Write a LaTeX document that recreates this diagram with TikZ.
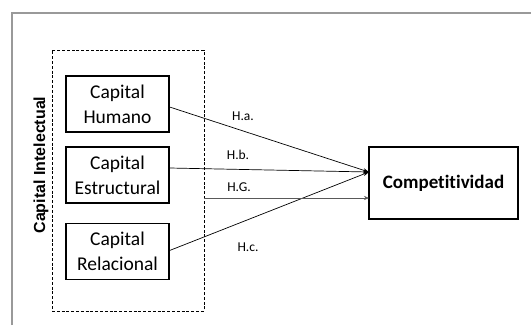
\documentclass[tikz,border=0pt]{standalone}
\usepackage{fontspec}
\setmainfont{Carlito}[Ligatures={NoCommon}]
\newfontfamily\arialf{Liberation Sans}
\usetikzlibrary{arrows.meta}
\begin{document}
\begin{tikzpicture}[x=1pt,y=-1pt,
  capbox/.style={draw,line width=1.2pt,minimum width=103pt,minimum height=56pt,inner sep=0pt,align=center,font=\fontsize{19.5}{25}\selectfont},
  link/.style={line width=0.7pt,-{Stealth[length=6pt,width=4pt]}},
  hlabel/.style={font=\fontsize{13.5}{15}\selectfont}]
\useasboundingbox (0,0) rectangle (531,325);
\fill[white] (0,0) rectangle (531,325);
\draw[gray!80,line width=1.8pt] (12,325) -- (12,13) -- (531,13);
\node[draw,dash pattern=on 3pt off 1.8pt,line width=1pt,minimum width=152pt,minimum height=261pt,inner sep=0pt] (ci) at (128,180.5) {};
\node[rotate=90,font=\arialf\bfseries\fontsize{16}{18}\selectfont] (cil) at (41,165) {Capital Intelectual};
\node[capbox] (hum) at (117.5,104) {Capital\\Humano};
\node[capbox] (est) at (117.5,175) {Capital\\Estructural};
\node[capbox] (rel) at (117.5,251.5) {Capital\\Relacional};
\node[draw,line width=1.2pt,minimum width=149pt,minimum height=72pt,inner sep=0pt,font=\bfseries\fontsize{19}{24}\selectfont] (comp) at (443.5,183) {Competitividad};
\coordinate (tip) at (369,172);
\coordinate (gs) at (204,198);
\coordinate (ge) at (369,198);
\draw[link] (hum.east) ++(0,3) coordinate (h1) -- (tip);
\draw[link] (est.east) ++(0,-7) coordinate (e1) -- (tip);
\draw[link] (rel.east) ++(0,-1) coordinate (r1) -- (tip);
\draw[line width=0.5pt,gray!70!black,-{Stealth[length=5pt,width=4pt]}] (gs) -- (ge);
\node[hlabel] (ha) at (243,116) {H.a.};
\node[hlabel] (hb) at (238,155) {H.b.};
\node[hlabel] (hg) at (239,187) {H.G.};
\node[hlabel] (hc) at (248,247) {H.c.};
\end{tikzpicture}
\end{document}
